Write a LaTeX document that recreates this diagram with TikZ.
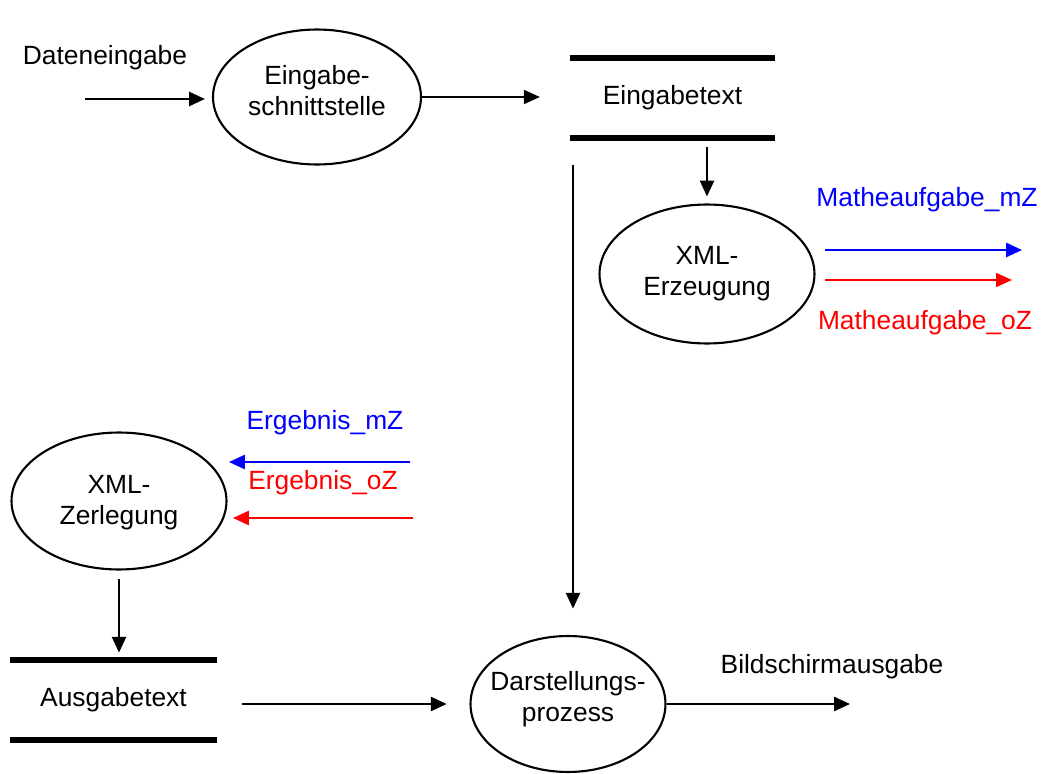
\documentclass[tikz,border=0pt]{standalone}
\usepackage{fontspec}
\setmainfont{Liberation Sans}
\usetikzlibrary{shapes.geometric,arrows.meta}
\definecolor{flowblue}{RGB}{0,0,255}
\definecolor{flowred}{RGB}{255,0,0}
\begin{document}
\begin{tikzpicture}[x=0.02cm,y=-0.02cm,
  font=\fontsize{15}{17.5}\selectfont,
  proc/.style={ellipse,draw,line width=1.2pt,inner sep=0pt},
  ptext/.style={align=center,inner sep=0pt},
  store/.style={rectangle,inner sep=0pt,minimum height=1.6cm},
  bar/.style={line width=3.4pt},
  arr/.style={line width=1.3pt,-{Triangle[length=9pt,width=8pt]}},
  thinarr/.style={line width=0.7pt,-{Triangle[length=9pt,width=8pt]}},
  lbl/.style={inner sep=0pt,anchor=center}]
\useasboundingbox (0,0) rectangle (1042,774);

% processes (text set as a centred label so the outline keeps its own size)
\node[proc,minimum width=4.16cm,minimum height=2.7cm,
  label={[ptext,yshift=0.13cm]center:Eingabe-\\schnittstelle}] (e1) at (317,97) {};
\node[proc,minimum width=4.3cm,minimum height=2.78cm,
  label={[ptext]center:XML-\\Erzeugung}] (e2) at (707,274) {};
\node[proc,minimum width=4.3cm,minimum height=2.74cm,
  label={[ptext,yshift=-0.04cm]center:XML-\\Zerlegung}] (e3) at (119,501) {};
\node[proc,minimum width=3.9cm,minimum height=2.72cm,
  label={[ptext,yshift=0.1cm]center:Darstellungs-\\prozess}] (e5) at (568,704) {};

% data stores
\node[store,minimum width=4.1cm] (st1) at (672.5,98) {Eingabetext};
\draw[bar] (st1.north west) -- (st1.north east);
\draw[bar] (st1.south west) -- (st1.south east);
\node[store,minimum width=4.14cm] (st2) at (113.5,700) {Ausgabetext};
\draw[bar] (st2.north west) -- (st2.north east);
\draw[bar] (st2.south west) -- (st2.south east);

% free labels
\node[lbl] (tin) at (105,58) {Dateneingabe};
\node[lbl] (tout) at (832,667) {Bildschirmausgabe};
\node[lbl,text=flowblue] (tmz) at (927,200) {Matheaufgabe\_mZ};
\node[lbl,text=flowred] (toz) at (925,323) {Matheaufgabe\_oZ};
\node[lbl,text=flowblue] (temz) at (325,423) {Ergebnis\_mZ};
\node[lbl,text=flowred] (teoz) at (323,483) {Ergebnis\_oZ};

% loose connector ends
\coordinate (cin) at (85,99);
\coordinate (cout) at (850,704);
\coordinate (vtop) at (573,165);
\coordinate (bm1) at (825,250);
\coordinate (bm2) at (1022,250);
\coordinate (rm1) at (825,280);
\coordinate (rm2) at (1012,280);
\coordinate (be1) at (410,462);
\coordinate (be2) at (229,462);
\coordinate (re1) at (413,518);
\coordinate (re2) at (233,518);

% connectors
\draw[arr,shorten >=4pt] (cin) -- (cin -| e1.west);
\draw[thinarr,shorten >=17pt] (e1.east) -- (e1.east -| st1.west);
\draw[arr,shorten <=5pt,shorten >=4pt] (e2.north |- st1.south) -- (e2.north);
\draw[arr,shorten >=15pt] (vtop) -- (vtop |- e5.north);
\draw[arr,shorten <=5pt,shorten >=4pt] (e3.south) -- (e3.south |- st2.north);
\draw[arr,shorten <=14pt,shorten >=13pt] (st2.east |- e5.west) -- (e5.west);
\draw[arr] (e5.east) -- (cout);

\draw[arr,draw=flowblue,fill=flowblue] (bm1) -- (bm2);
\draw[thinarr,draw=flowred,fill=flowred] (rm1) -- (rm2);
\draw[arr,draw=flowblue,fill=flowblue] (be1) -- (be2);
\draw[arr,draw=flowred,fill=flowred] (re1) -- (re2);
\end{tikzpicture}
\end{document}
